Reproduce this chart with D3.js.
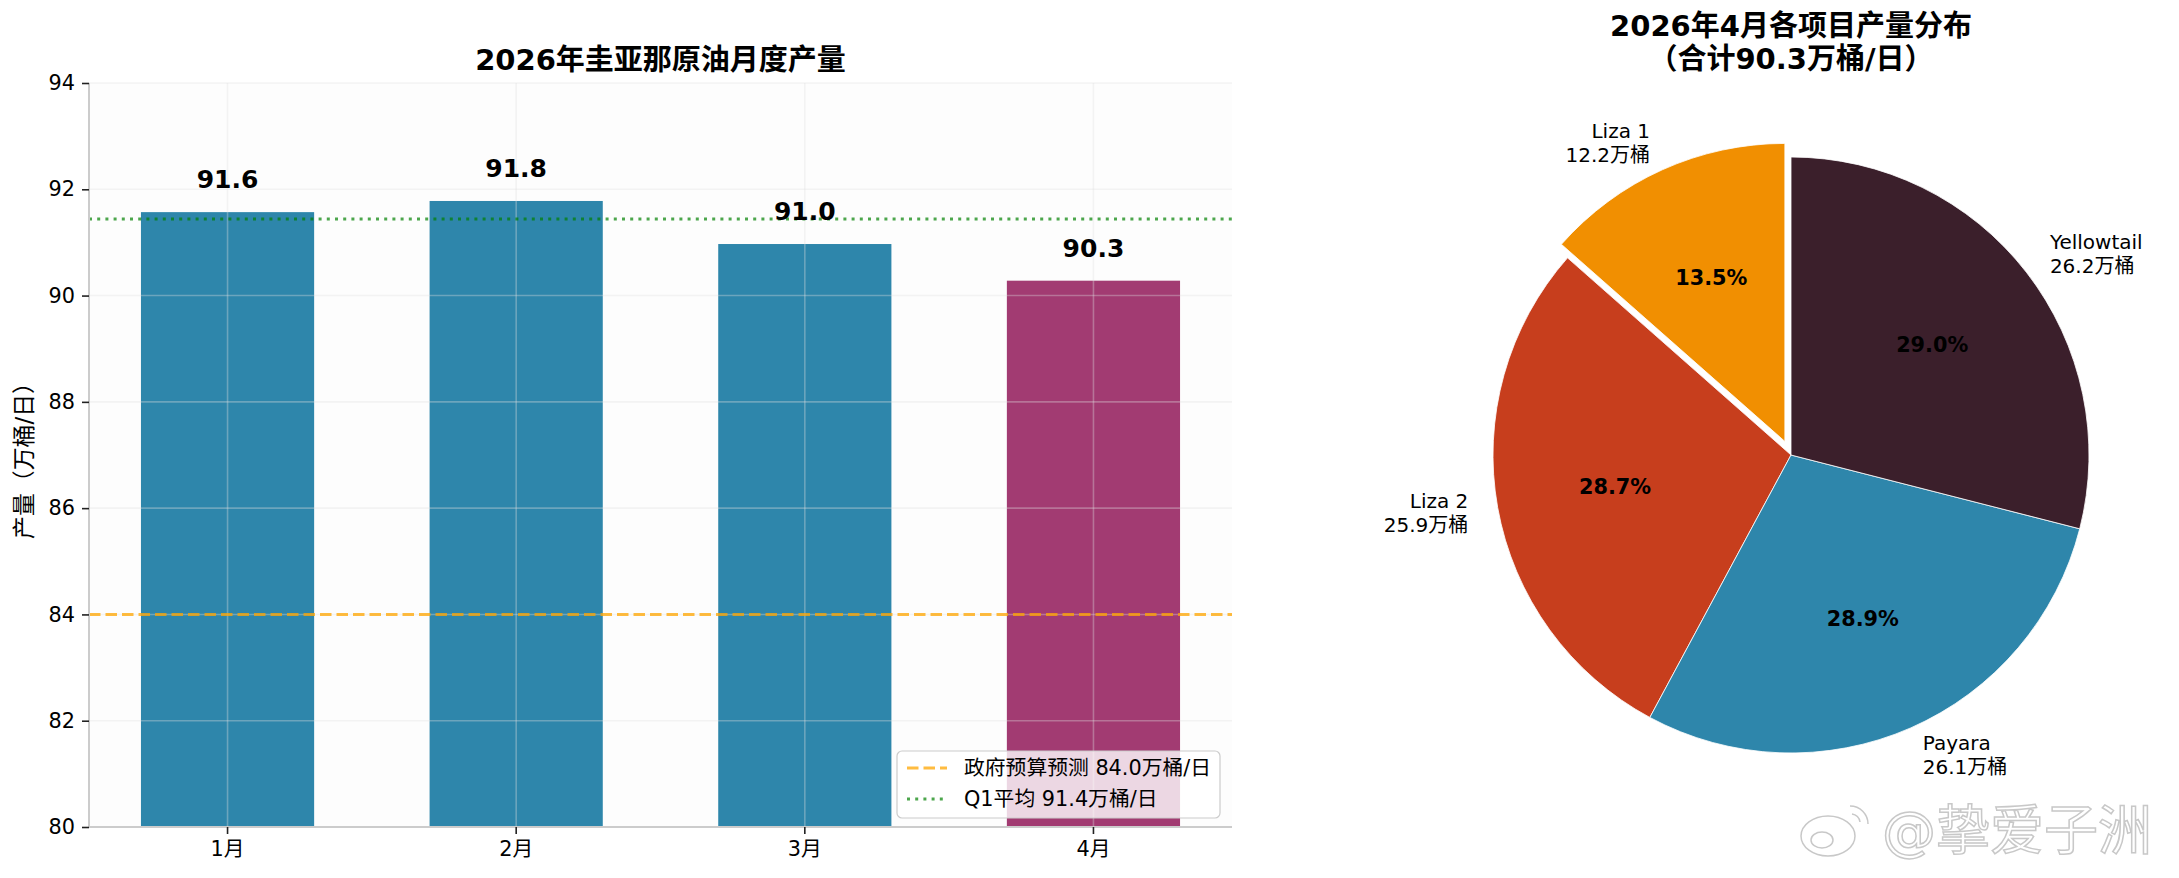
<!DOCTYPE html>
<html><head><meta charset="utf-8">
<script src="https://cdn.jsdelivr.net/npm/d3@7"></script>
<style>
html,body{margin:0;padding:0;background:#fff;}
svg{display:block;}
text{font-family:"DejaVu Sans","Noto Sans CJK SC",sans-serif;}
</style></head>
<body>
<svg id="chart" width="2179" height="878"></svg>
<script>
// ---- data ----
const months = ["1月", "2月", "3月", "4月"];
const production = [91.57, 91.78, 90.97, 90.28];
const barColors = ["#2E86AB", "#2E86AB", "#2E86AB", "#A23B72"];
const budgetForecast = 84.0;
const yTicks = [80, 82, 84, 86, 88, 90, 92, 94];
const projects = ["Liza 1", "Liza 2", "Payara", "Yellowtail"];
const projectValues = [12.2, 25.9, 26.1, 26.2];
const projectColors = ["#F18F01", "#C73E1D", "#2E86AB", "#3B1F2B"];
const explode = [0.05, 0, 0, 0];

const svg = d3.select("#chart");
const FONT = '"DejaVu Sans","Noto Sans CJK SC",sans-serif';

// ---- bar chart ----
const L = 89, R = 1232, T = 83, B = 827;
const x = d3.scaleBand().domain(months).range([L, R]).paddingInner(0.4).paddingOuter(0.18);
const y = d3.scaleLinear().domain([80, 94]).range([B, T]);

svg.append("rect").attr("x", L).attr("y", T).attr("width", R - L).attr("height", B - T).attr("fill", "#fdfdfd");

const g = svg.append("g");
g.selectAll("rect.bar").data(production).join("rect")
  .attr("class", "bar")
  .attr("x", (d, i) => x(months[i]))
  .attr("width", x.bandwidth())
  .attr("y", d => y(d))
  .attr("height", d => y(80) - y(d))
  .attr("fill", (d, i) => barColors[i]);

// grid
const grid = svg.append("g").attr("stroke", "#e0e0e0").attr("stroke-opacity", 0.35).attr("stroke-width", 1.6);
grid.selectAll("line.h").data(yTicks).join("line")
  .attr("x1", L).attr("x2", R).attr("y1", d => y(d)).attr("y2", d => y(d));
grid.selectAll("line.v").data(months).join("line")
  .attr("x1", d => x(d) + x.bandwidth() / 2).attr("x2", d => x(d) + x.bandwidth() / 2)
  .attr("y1", T).attr("y2", B);

// reference lines
const q1Avg = d3.mean(production.slice(0, 3));
svg.append("line").attr("x1", L).attr("x2", R).attr("y1", y(budgetForecast)).attr("y2", y(budgetForecast))
  .attr("stroke", "#FFA500").attr("stroke-opacity", 0.75).attr("stroke-width", 3).attr("stroke-dasharray", "11.5,5");
svg.append("line").attr("x1", L).attr("x2", R).attr("y1", y(q1Avg)).attr("y2", y(q1Avg))
  .attr("stroke", "#008000").attr("stroke-opacity", 0.7).attr("stroke-width", 3).attr("stroke-dasharray", "3,5.2");

// value labels
svg.selectAll("text.val").data(production).join("text")
  .attr("x", (d, i) => x(months[i]) + x.bandwidth() / 2)
  .attr("y", d => y(d) - 24)
  .attr("text-anchor", "middle").attr("font-weight", "bold").attr("font-size", 25)
  .attr("fill", "#000").text(d => d.toFixed(1));

// axes
const yAxis = svg.append("g").attr("transform", `translate(${L},0)`)
  .call(d3.axisLeft(y).tickValues(yTicks).tickSize(7).tickPadding(7).tickFormat(d3.format("d")));
const xAxis = svg.append("g").attr("transform", `translate(0,${B})`)
  .call(d3.axisBottom(x).tickSize(7).tickPadding(7));
[yAxis, xAxis].forEach(a => {
  a.select(".domain").attr("stroke", "#cccccc").attr("stroke-width", 2);
  a.selectAll(".tick line").attr("stroke", "#222").attr("stroke-width", 1.6);
  a.selectAll(".tick text").attr("font-size", 20.8).attr("font-family", FONT).attr("fill", "#000");
});
yAxis.select(".domain").attr("d", `M0,${T}V${B}`);
xAxis.select(".domain").attr("d", `M${L},0H${R}`);

// titles
svg.append("text").attr("x", (L + R) / 2).attr("y", 70).attr("text-anchor", "middle")
  .attr("font-weight", "bold").attr("font-size", 29).attr("fill", "#000").text("2026年圭亚那原油月度产量");
svg.append("text").attr("transform", `translate(32,${(T + B) / 2}) rotate(-90)`).attr("text-anchor", "middle")
  .attr("font-size", 22.9).attr("fill", "#000").text("产量（万桶/日）");

// legend
const lg = svg.append("g");
lg.append("rect").attr("x", 897).attr("y", 751).attr("width", 323).attr("height", 67).attr("rx", 5)
  .attr("fill", "#fff").attr("fill-opacity", 0.8).attr("stroke", "#cccccc").attr("stroke-width", 1.2);
const legendItems = [
  {label: `政府预算预测 ${budgetForecast.toFixed(1)}万桶/日`, color: "#FFA500", op: 0.75, dash: "11.5,5", y: 768},
  {label: `Q1平均 ${q1Avg.toFixed(1)}万桶/日`, color: "#008000", op: 0.7, dash: "3,5.2", y: 799}
];
legendItems.forEach(it => {
  lg.append("line").attr("x1", 907).attr("x2", 947).attr("y1", it.y).attr("y2", it.y)
    .attr("stroke", it.color).attr("stroke-opacity", it.op).attr("stroke-width", 3).attr("stroke-dasharray", it.dash);
  lg.append("text").attr("x", 964).attr("y", it.y).attr("dominant-baseline", "central")
    .attr("font-size", 20.8).attr("fill", "#000").text(it.label);
});

// ---- pie chart ----
const cx = 1791, cy = 455, PR = 298;
const total = d3.sum(projectValues);
const pie = d3.pie().sort(null).value(d => d).startAngle(0).endAngle(-2 * Math.PI);
const arcs = pie(projectValues);
const arc = d3.arc().innerRadius(0).outerRadius(PR);
const pg = svg.append("g").attr("transform", `translate(${cx},${cy})`);

arcs.forEach((a, i) => {
  const mid = (a.startAngle + a.endAngle) / 2;
  const ux = Math.sin(mid), uy = -Math.cos(mid);
  const ox = ux * explode[i] * PR, oy = uy * explode[i] * PR;
  const wg = pg.append("g").attr("transform", `translate(${ox},${oy})`);
  wg.append("path").attr("d", arc(a)).attr("fill", projectColors[i]).attr("stroke", "#fff").attr("stroke-width", 0.8);
  wg.append("text").attr("x", ux * 0.6 * PR).attr("y", uy * 0.6 * PR)
    .attr("text-anchor", "middle").attr("dominant-baseline", "central")
    .attr("font-weight", "bold").attr("font-size", 20.8).attr("fill", "#000")
    .text((a.value / total * 100).toFixed(1) + "%");
  const lx = ux * 1.1 * PR, ly = uy * 1.1 * PR;
  const t = wg.append("text").attr("text-anchor", lx < 0 ? "end" : "start")
    .attr("font-size", 20).attr("fill", "#000").attr("dominant-baseline", "central");
  t.append("tspan").attr("x", lx).attr("y", ly - 12).text(projects[i]);
  t.append("tspan").attr("x", lx).attr("y", ly + 12).text(a.value.toFixed(1) + "万桶");
});

svg.append("text").attr("x", cx).attr("y", 36).attr("text-anchor", "middle")
  .attr("font-weight", "bold").attr("font-size", 29).attr("fill", "#000").text("2026年4月各项目产量分布");
svg.append("text").attr("x", cx).attr("y", 68.5).attr("text-anchor", "middle")
  .attr("font-weight", "bold").attr("font-size", 29).attr("fill", "#000")
  .text(`（合计${production[3].toFixed(1)}万桶/日）`);

// ---- watermark ----
const wm = svg.append("g").attr("fill", "#fff").attr("stroke", "#c8c8c8").attr("stroke-width", 1.5);
wm.append("ellipse").attr("cx", 1828).attr("cy", 836).attr("rx", 27).attr("ry", 20);
wm.append("ellipse").attr("cx", 1822).attr("cy", 840).attr("rx", 11).attr("ry", 8);
wm.append("path").attr("fill", "none").attr("d", "M1850,806 A18,18 0 0 1 1868,824 M1852,814 A9,9 0 0 1 1860,822");
wm.append("text").attr("x", 1882).attr("y", 850).attr("font-size", 54).attr("font-family", '"Noto Sans CJK SC",sans-serif')
  .text("@挚爱子洲");
</script>
</body></html>
